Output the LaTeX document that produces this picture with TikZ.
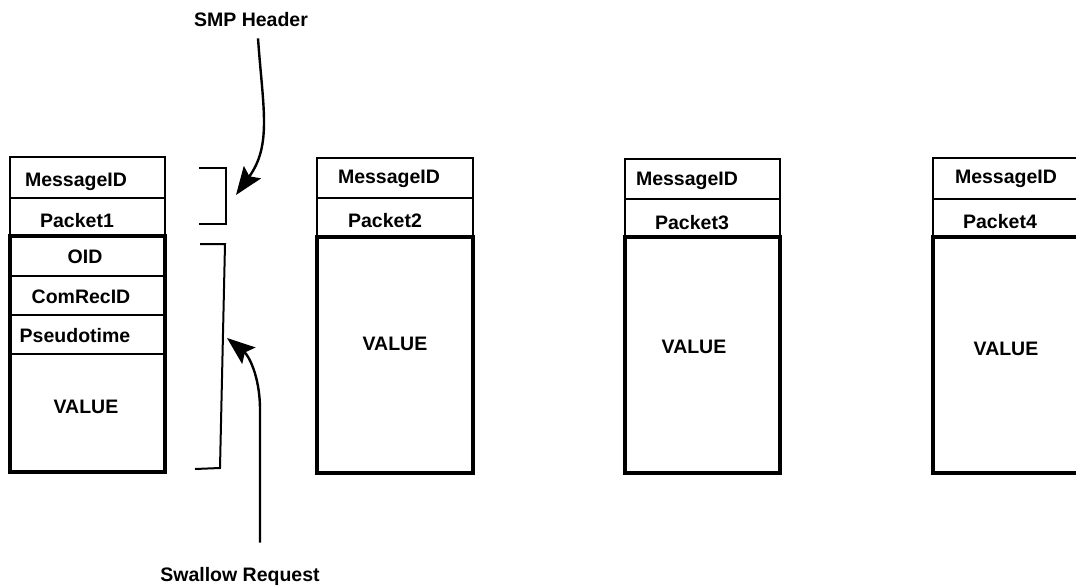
\documentclass[tikz,border=0pt]{standalone}
\usepackage{fontspec}
\setmainfont{Liberation Sans}
\usetikzlibrary{arrows.meta}
\begin{document}
\begin{tikzpicture}[x=1pt,y=-1pt,
  cellline/.style={line width=1.6pt},
  frameline/.style={line width=3.6pt},
  lbl/.style={font=\bfseries\fontsize{19.5}{23}\selectfont, inner sep=0pt, anchor=base},
  bracketline/.style={line width=2pt},
  pointer/.style={line width=2.4pt, -{Stealth[length=28pt,width=21pt,inset=5pt]}}
]
\useasboundingbox (0,0) rectangle (1076,586);
\clip (0,0) rectangle (1076,586);

% ---------- packet 1 (header + swallow request body) ----------
\draw[cellline] (10,157) rectangle (165,198);
\draw[cellline] (10,198) rectangle (165,236);
\draw[cellline] (10,276) -- (165,276);
\draw[cellline] (10,315) -- (165,315);
\draw[cellline] (10,354) -- (165,354);
\draw[frameline] (10,236) rectangle (165,472);
\node[lbl] (m1)  at (76,186) {MessageID};
\node[lbl] (p1)  at (77,227) {Packet1};
\node[lbl] (oid) at (85,263) {OID};
\node[lbl] (crid) at (81,303) {ComRecID};
\node[lbl] (pst) at (75,342) {Pseudotime};
\node[lbl] (v1)  at (86,413) {VALUE};

% ---------- packet 2 ----------
\draw[cellline] (317,158) rectangle (473,198);
\draw[cellline] (317,198) rectangle (473,237);
\draw[frameline] (317,237) rectangle (473,473);
\node[lbl] (m2) at (389,183) {MessageID};
\node[lbl] (p2) at (385,227) {Packet2};
\node[lbl] (v2) at (395,350) {VALUE};

% ---------- packet 3 ----------
\draw[cellline] (625,159) rectangle (780,199);
\draw[cellline] (625,199) rectangle (780,237);
\draw[frameline] (625,237) rectangle (780,473);
\node[lbl] (m3) at (687,185) {MessageID};
\node[lbl] (p3) at (692,229) {Packet3};
\node[lbl] (v3) at (694,353) {VALUE};

% ---------- packet 4 (runs off the right edge) ----------
\draw[cellline] (933,158) rectangle (1092,199);
\draw[cellline] (933,199) rectangle (1092,237);
\draw[frameline] (933,237) rectangle (1092,473);
\node[lbl] (m4) at (1006,183) {MessageID};
\node[lbl] (p4) at (1000,228) {Packet4};
\node[lbl] (v4) at (1006,355) {VALUE};

% ---------- brackets ----------
\draw[bracketline] (199,168) -- (226,168) -- (226,224) -- (199,224);
\draw[bracketline] (200,244) -- (225,244) -- (220,468) -- (195,469);

% ---------- callouts ----------
\node[lbl] (smp) at (251,27) {SMP Header};
\node[lbl] (swl) at (240,581) {Swallow Request};
\coordinate (smptip) at (236,195);
\coordinate (swltip) at (227,338);

\draw[pointer] ([xshift=7pt,yshift=-11pt]smp.south) .. controls +(5,70) and (272,145) .. (smptip);
\draw[pointer] ([xshift=20pt,yshift=24pt]swl.north) -- (260,410) .. controls (260,375) and (248,355) .. (swltip);
\end{tikzpicture}
\end{document}
